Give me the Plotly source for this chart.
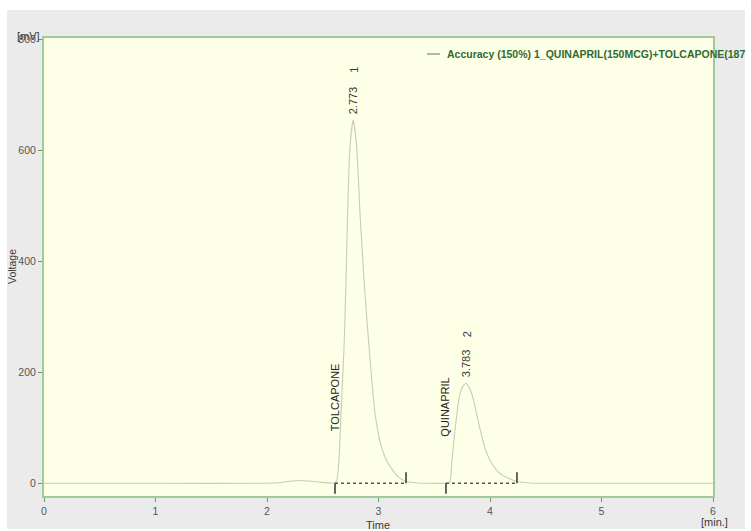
import plotly.graph_objects as go

# ---- data ----
time_min = [0.0, 0.25, 1.0, 2.0, 2.1, 2.2, 2.3, 2.4, 2.5, 2.58, 2.61, 2.625, 2.645,
            2.664, 2.691, 2.709, 2.723, 2.744, 2.773, 2.804, 2.834, 2.870, 2.915,
            2.969, 3.02, 3.085, 3.175, 3.25, 3.35, 3.45, 3.6, 3.63, 3.643, 3.657,
            3.686, 3.725, 3.752, 3.783, 3.815, 3.85, 3.88, 3.910, 3.96, 4.015, 4.07,
            4.135, 4.25, 4.35, 4.5, 5.0, 6.0]
voltage_mv = [0.0, 0.0, 0.0, 0.0, 1.0, 3.5, 5.0, 3.5, 1.5, 0.5, 1.0, 4.0, 40.0,
              126.0, 246.0, 367.0, 487.0, 607.0, 655.0, 607.0, 487.0, 367.0, 246.0,
              126.0, 70.0, 36.0, 12.0, 3.0, 0.5, 0.0, 0.0, 0.5, 4.0, 36.0,
              96.0, 156.0, 173.0, 180.0, 172.0, 152.0, 125.0, 98.0, 60.0, 36.0, 21.0,
              12.0, 3.0, 0.5, 0.0, 0.0, 0.0]

peak_names = ["TOLCAPONE", "QUINAPRIL"]
peak_numbers = ["1", "2"]
peak_rt = [2.773, 3.783]
peak_height = [655, 180]
peak_start = [2.610, 3.605]
peak_end = [3.247, 4.242]
legend_name = "Accuracy (150%) 1_QUINAPRIL(150MCG)+TOLCAPONE(187"

x_ticks = [0, 1, 2, 3, 4, 5, 6]
y_ticks = [0, 200, 400, 600, 800]

FONT = "Liberation Sans, Arial, sans-serif"
TXT = "#3a3a3a"

fig = go.Figure()

# signal
fig.add_trace(go.Scatter(x=time_min, y=voltage_mv, mode="lines",
                         line=dict(color="#c6cdb6", width=1.1, shape="spline", smoothing=0.6),
                         showlegend=False, hoverinfo="skip"))

# integration baselines (dotted) and start/end markers
for s, e in zip(peak_start, peak_end):
    fig.add_trace(go.Scatter(x=[s, e], y=[0, 0], mode="lines",
                             line=dict(color="#555555", width=1.3, dash="dot"),
                             showlegend=False, hoverinfo="skip"))
    fig.add_trace(go.Scatter(x=[s, s], y=[0, -19], mode="lines",
                             line=dict(color="#333333", width=1.5),
                             showlegend=False, hoverinfo="skip"))
    fig.add_trace(go.Scatter(x=[e, e], y=[0, 20], mode="lines",
                             line=dict(color="#333333", width=1.5),
                             showlegend=False, hoverinfo="skip"))

annotations = []
label_cfg = [
    (691, 746, 156),
    (216, 268, 137),
]
for i in range(2):
    rty, numy, namey = label_cfg[i]
    xoff = 0.0 if i == 0 else 0.008
    annotations.append(dict(x=peak_rt[i] + xoff, y=rty,
                            text=f"{peak_rt[i]:.3f}", textangle=-90, showarrow=False,
                            xanchor="center", yanchor="middle",
                            font=dict(family=FONT, size=11, color=TXT)))
    annotations.append(dict(x=peak_rt[i] + xoff, y=numy,
                            text=peak_numbers[i], textangle=-90, showarrow=False,
                            xanchor="center", yanchor="middle",
                            font=dict(family=FONT, size=11, color=TXT)))
    annotations.append(dict(x=peak_start[i] - 0.005, y=namey,
                            text=peak_names[i], textangle=-90, showarrow=False,
                            xanchor="center", yanchor="middle",
                            font=dict(family=FONT, size=11, color="#222222")))

W, H = 751, 531
L, R, T, B = 44, 38, 38, 35
PW, PH = W - L - R, H - T - B


def px_x(p):
    return (p - L) / PW


def px_y(p):
    return (H - B - p) / PH


annotations.append(dict(xref="paper", yref="paper", x=px_x(445), y=px_y(54),
                        text=f"<b>{legend_name}</b>", showarrow=False,
                        xanchor="left", yanchor="middle",
                        font=dict(family=FONT, size=10.5, color="#2f6b2f")))
annotations.append(dict(xref="paper", yref="paper", x=px_x(28), y=px_y(36),
                        text="[mV]", showarrow=False, xanchor="center", yanchor="middle",
                        font=dict(family=FONT, size=11, color=TXT)))
annotations.append(dict(xref="paper", yref="paper", x=px_x(714), y=px_y(522),
                        text="[min.]", showarrow=False, xanchor="center", yanchor="middle",
                        font=dict(family=FONT, size=11, color=TXT)))
annotations.append(dict(xref="paper", yref="paper", x=px_x(378), y=px_y(525),
                        text="Time", showarrow=False, xanchor="center", yanchor="middle",
                        font=dict(family=FONT, size=11, color=TXT)))
annotations.append(dict(xref="paper", yref="paper", x=px_x(12), y=px_y(267),
                        text="Voltage", textangle=-90, showarrow=False,
                        xanchor="center", yanchor="middle",
                        font=dict(family=FONT, size=10.5, color=TXT)))

shapes = [
    dict(type="line", xref="paper", yref="paper", x0=px_x(427), x1=px_x(440),
         y0=px_y(54), y1=px_y(54), line=dict(color="#8aa880", width=1.5)),
    dict(type="rect", xref="paper", yref="paper", x0=px_x(0), x1=px_x(W), y0=px_y(10), y1=px_y(0),
         fillcolor="white", line=dict(width=0), layer="above"),
    dict(type="rect", xref="paper", yref="paper", x0=px_x(0), x1=px_x(7), y0=px_y(H), y1=px_y(0),
         fillcolor="white", line=dict(width=0), layer="above"),
    dict(type="rect", xref="paper", yref="paper", x0=px_x(745), x1=px_x(W), y0=px_y(H), y1=px_y(0),
         fillcolor="white", line=dict(width=0), layer="above"),
    dict(type="rect", xref="paper", yref="paper", x0=px_x(0), x1=px_x(W), y0=px_y(H), y1=px_y(529),
         fillcolor="white", line=dict(width=0), layer="above"),
]

fig.update_layout(
    width=W, height=H,
    margin=dict(l=L, r=R, t=T, b=B, autoexpand=False),
    paper_bgcolor="#ebebeb",
    plot_bgcolor="#fdffe7",
    showlegend=False,
    annotations=annotations,
    shapes=shapes,
    font=dict(family=FONT, size=11, color=TXT),
    xaxis=dict(range=[0, 6], tickvals=x_ticks, ticktext=[str(v) for v in x_ticks],
               showgrid=False, zeroline=False, showline=True, mirror=True, automargin=False,
               linecolor="#9fcb98", linewidth=2, ticks="outside", ticklen=4,
               tickcolor="#5fa05f", tickfont=dict(family=FONT, size=10.5, color="#555555")),
    yaxis=dict(range=[-23, 803], tickvals=y_ticks, ticktext=[str(v) for v in y_ticks],
               showgrid=False, zeroline=False, showline=True, mirror=True, automargin=False,
               linecolor="#9fcb98", linewidth=2, ticks="outside", ticklen=4,
               tickcolor="#5fa05f", tickfont=dict(family=FONT, size=10.5, color="#555555")),
)

fig.write_html("out.html")
